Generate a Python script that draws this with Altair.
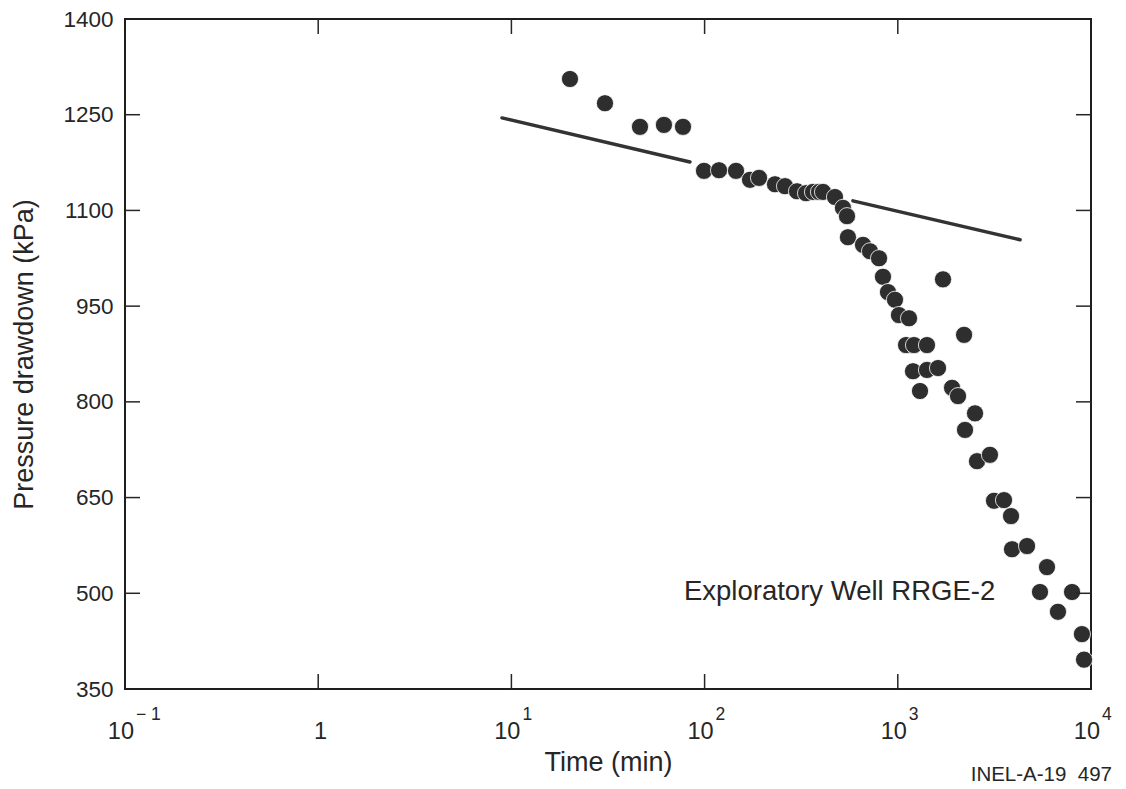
import altair as alt
import pandas as pd

# Measured data points: time (min) and pressure drawdown (kPa)
time_min = [20.1, 30.5, 46.3, 61.6, 77.3,
            99.3, 118.8, 145.4, 171.8, 191.3, 231.4, 260.8, 300.8, 334.9, 364, 390.9, 410.1, 473, 520, 545.8,
            552, 660.7, 718, 799.6, 838, 889.6, 967, 1014, 1143, 1103, 1213, 1416, 1199, 1416, 1615, 1303,
            1909, 2050, 1714, 2203,
            2510, 2228, 2570, 2999, 3148, 3546, 3855, 3900, 4667, 5918, 5445, 7978, 6745, 8975, 9204]
drawdown_kpa = [1306, 1268, 1231, 1234, 1231,
                1162, 1163, 1162, 1148, 1151, 1141, 1138, 1130, 1127, 1129, 1129, 1129, 1121, 1104, 1091,
                1058, 1046, 1036, 1025, 996, 972, 960, 936, 931, 889, 889, 889, 848, 850, 853, 817,
                822, 809, 992, 905,
                782, 756, 707, 717, 645, 646, 621, 569, 574, 541, 502, 502, 471, 436, 396]

# Straight-line (semilog) fits
line_seg = ["early", "early", "late", "late"]
line_time = [8.94, 84.0, 586.0, 4295.0]
line_kpa = [1245, 1176, 1115, 1054]

# Tick values and labels
x_ticks = [0.1, 1, 10, 100, 1000, 10000]
x_base = ["10", "1", "10", "10", "10", "10"]
x_exp = ["\u2212 1", "", "1", "2", "3", "4"]
x_inner_ticks = [1, 10, 100, 1000]
y_ticks = [350, 500, 650, 800, 950, 1100, 1250, 1400]
y_inner_ticks = [500, 650, 800, 950, 1100, 1250]

# Annotations
note_text = ["Exploratory Well RRGE-2"]
note_time = [78.2]
note_kpa = [502]
figure_id = "INEL-A-19\u00a0\u00a0497"

W, H = 966, 670
FONT = "Liberation Sans"
INK = "#262626"

xscale = alt.Scale(type="log", domain=[0.1, 10000], nice=False)
yscale = alt.Scale(domain=[350, 1400], nice=False, zero=False)

pts = pd.DataFrame({"t": time_min, "p": drawdown_kpa})
lines = pd.DataFrame({"seg": line_seg, "t": line_time, "p": line_kpa})
xt = pd.DataFrame({"t": x_inner_ticks})
yt = pd.DataFrame({"p": y_inner_ticks})
xl = pd.DataFrame({"t": x_ticks, "base": x_base, "exp": x_exp})
note = pd.DataFrame({"label": note_text, "t": note_time, "p": note_kpa})
fid = pd.DataFrame({"label": [figure_id]})

xaxis = alt.Axis(title="Time (min)", values=x_ticks, labels=False,
                 grid=False, domain=False, ticks=False,
                 titleFont=FONT, titleFontSize=27, titleFontWeight="normal",
                 titleColor=INK, titlePadding=60)
yaxis = alt.Axis(title="Pressure drawdown (kPa)", values=y_ticks, format="d",
                 grid=False, domain=False, ticks=False,
                 labelFontSize=22.5, labelPadding=12, labelFont=FONT, labelColor=INK,
                 titleFont=FONT, titleFontSize=27, titleFontWeight="normal",
                 titleColor=INK, titlePadding=24, labelFlush=False)

X = alt.X("t:Q", scale=xscale, axis=xaxis)
Y = alt.Y("p:Q", scale=yscale, axis=yaxis)

points = alt.Chart(pts).mark_circle(size=295, color="#2e2e2e", opacity=1,
                                    stroke="white", strokeWidth=0.8).encode(x=X, y=Y)

fit_lines = alt.Chart(lines).mark_line(color="#333333", strokeWidth=3.5, strokeCap="round").encode(
    x=X, y=Y, detail="seg:N")

xtick_bottom = alt.Chart(xt).mark_rule(color=INK, strokeWidth=1.5).encode(
    x=X, y=alt.value(H), y2=alt.value(H - 15))
xtick_top = alt.Chart(xt).mark_rule(color=INK, strokeWidth=1.5).encode(
    x=X, y=alt.value(0), y2=alt.value(15))
ytick_left = alt.Chart(yt).mark_rule(color=INK, strokeWidth=1.5).encode(
    y=Y, x=alt.value(0), x2=alt.value(15))
ytick_right = alt.Chart(yt).mark_rule(color=INK, strokeWidth=1.5).encode(
    y=Y, x=alt.value(W), x2=alt.value(W - 15))

xlab_base = alt.Chart(xl).mark_text(align="right", baseline="alphabetic", font=FONT,
                                    fontSize=23.5, color=INK, dx=9).encode(
    x=X, y=alt.value(H + 50), text="base:N")
xlab_exp = alt.Chart(xl).mark_text(align="left", baseline="alphabetic", font=FONT,
                                   fontSize=17.5, color=INK, dx=11).encode(
    x=X, y=alt.value(H + 31), text="exp:N")

annot = alt.Chart(note).mark_text(align="left", baseline="middle", font=FONT,
                                  fontSize=27.5, color=INK).encode(
    x=X, y=Y, text="label:N")

fig_id = alt.Chart(fid).mark_text(align="right", baseline="alphabetic", font=FONT,
                                  fontSize=20.5, color=INK).encode(
    x=alt.value(W + 21), y=alt.value(H + 92), text="label:N")

chart = alt.layer(
    fit_lines, points, xtick_bottom, xtick_top, ytick_left, ytick_right,
    xlab_base, xlab_exp, annot, fig_id
).properties(
    width=W, height=H,
    padding={"left": 2, "top": 0, "right": 0, "bottom": 0},
).configure(
    background="white"
).configure_view(
    stroke="#1e1e1e", strokeWidth=2
)

chart.save("out.html", embed_options={"renderer": "svg", "actions": False})
